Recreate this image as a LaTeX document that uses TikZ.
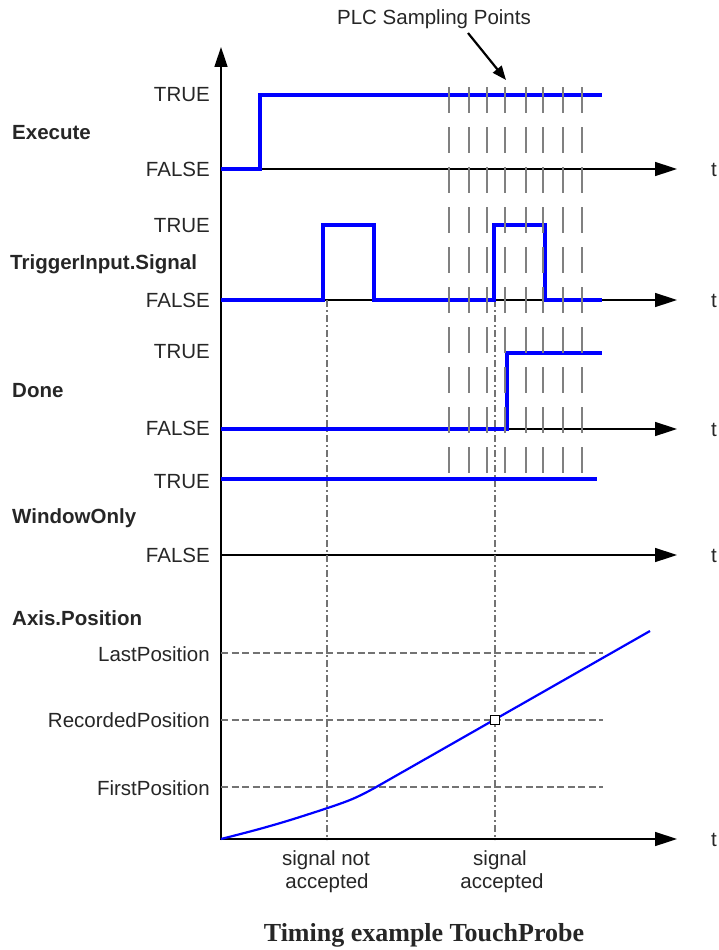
\documentclass[tikz,border=0pt]{standalone}
\usepackage{fontspec}
\setmainfont{Liberation Sans}
\newfontfamily\capfont{Liberation Serif}
\usetikzlibrary{arrows.meta}
\begin{document}
\begin{tikzpicture}[x=1pt,y=-1pt,
  lbl/.style={font=\fontsize{20.5}{24}\selectfont, inner sep=0pt, text=black!85},
  lvl/.style={lbl, anchor=base east},
  ttl/.style={lbl, font=\fontsize{20.5}{24}\selectfont\bfseries, anchor=base west},
  tlbl/.style={lbl, anchor=base west},
  cen/.style={lbl, anchor=base},
  taxis/.style={line width=1.5pt, -{Triangle[length=22pt,width=14pt]}},
  sig/.style={draw=blue, line width=4pt, line join=miter},
  samp/.style={draw=black!50, line width=1.6pt, dash pattern=on 26pt off 14pt},
  gridln/.style={draw=black!55, line width=1.2pt, dash pattern=on 7pt off 3.5pt},
  vgrid/.style={draw=black!55, line width=1.2pt, dash pattern=on 7pt off 3pt on 2pt off 3pt},
]
\useasboundingbox (0,0) rectangle (719,950);

% axes
\coordinate (o) at (221,840);
\coordinate (ytop) at (221,47);
\draw[line width=1.5pt, -{Triangle[length=20pt,width=13pt]}] (o) -- (ytop);
\foreach \n/\y in {e/169, tr/300, d/429, w/555, p/839}{
  \coordinate (\n0) at (221,\y);
  \coordinate (\n1) at (677,\y);
  \draw[taxis] (\n0) -- (\n1);
  \node[tlbl] (t\n) at (711,\y+7) {t};
}

% vertical reference lines
\coordinate (na0) at (327,300);
\coordinate (na1) at (327,840);
\coordinate (ac0) at (495,300);
\coordinate (ac1) at (495,840);
\draw[vgrid] (na0) -- (na1);
\draw[vgrid] (ac0) -- (ac1);

% position grid lines
\foreach \n/\y in {last/653, rec/720, first/787}{
  \coordinate (\n0) at (221,\y);
  \coordinate (\n1) at (603,\y);
  \draw[gridln] (\n0) -- (\n1);
}

% signals
\draw[sig] (221,169) -- (260,169) -- (260,95) -- (602,95);
\draw[sig] (221,300) -- (323,300) -- (323,225) -- (374,225) -- (374,300)
  -- (494,300) -- (494,225) -- (545,225) -- (545,300) -- (602,300);
\draw[sig] (221,429) -- (507,429) -- (507,353) -- (602,353);
\draw[sig] (221,479) -- (597,479);

% position curve
\draw[blue, line width=2.2pt] plot[smooth, tension=0.6] coordinates
  {(221,839) (263,828) (303,816) (350,800) (378,786)} -- (650,631);
\node[draw=black, fill=white, line width=1.4pt, minimum size=9pt, inner sep=0pt] (recpt) at (495,720) {};

% sampling points
\foreach \x in {449,469,487,505,526,543,563,582}{
  \draw[samp] (\x,87) -- (\x,473);
}
\node[cen] (plc) at (434,25) {PLC Sampling Points};
\coordinate (plcend) at (506,80);
\draw[line width=2.2pt, -{Triangle[length=14pt,width=11pt]}] (468,33) -- (plcend);

% level labels
\node[lvl] (etrue) at (210,101) {TRUE};
\node[lvl] (efalse) at (210,176) {FALSE};
\node[lvl] (trtrue) at (210,232) {TRUE};
\node[lvl] (trfalse) at (210,307) {FALSE};
\node[lvl] (dtrue) at (210,358) {TRUE};
\node[lvl] (dfalse) at (210,435) {FALSE};
\node[lvl] (wtrue) at (210,488) {TRUE};
\node[lvl] (wfalse) at (210,562) {FALSE};
\node[lvl] (lastl) at (210,661) {LastPosition};
\node[lvl] (recl) at (210,727) {RecordedPosition};
\node[lvl] (firstl) at (210,795) {FirstPosition};

% signal names
\node[ttl] (exe) at (12,139) {Execute};
\node[ttl] (trig) at (10,269) {TriggerInput.Signal};
\node[ttl] (done) at (12,397) {Done};
\node[ttl] (win) at (12,523) {WindowOnly};
\node[ttl] (axp) at (12,625) {Axis.Position};

% bottom texts
\node[cen] (nacc1) at (326,865) {signal not};
\node[cen] (nacc2) at (327,888) {accepted};
\node[cen] (acc1) at (500,865) {signal};
\node[cen] (acc2) at (502,888) {accepted};

% caption
\node[anchor=base, inner sep=0pt, font=\capfont\fontsize{26}{30}\selectfont\bfseries, text=black!85] (cap) at (424,941) {Timing example TouchProbe};
\end{tikzpicture}
\end{document}
